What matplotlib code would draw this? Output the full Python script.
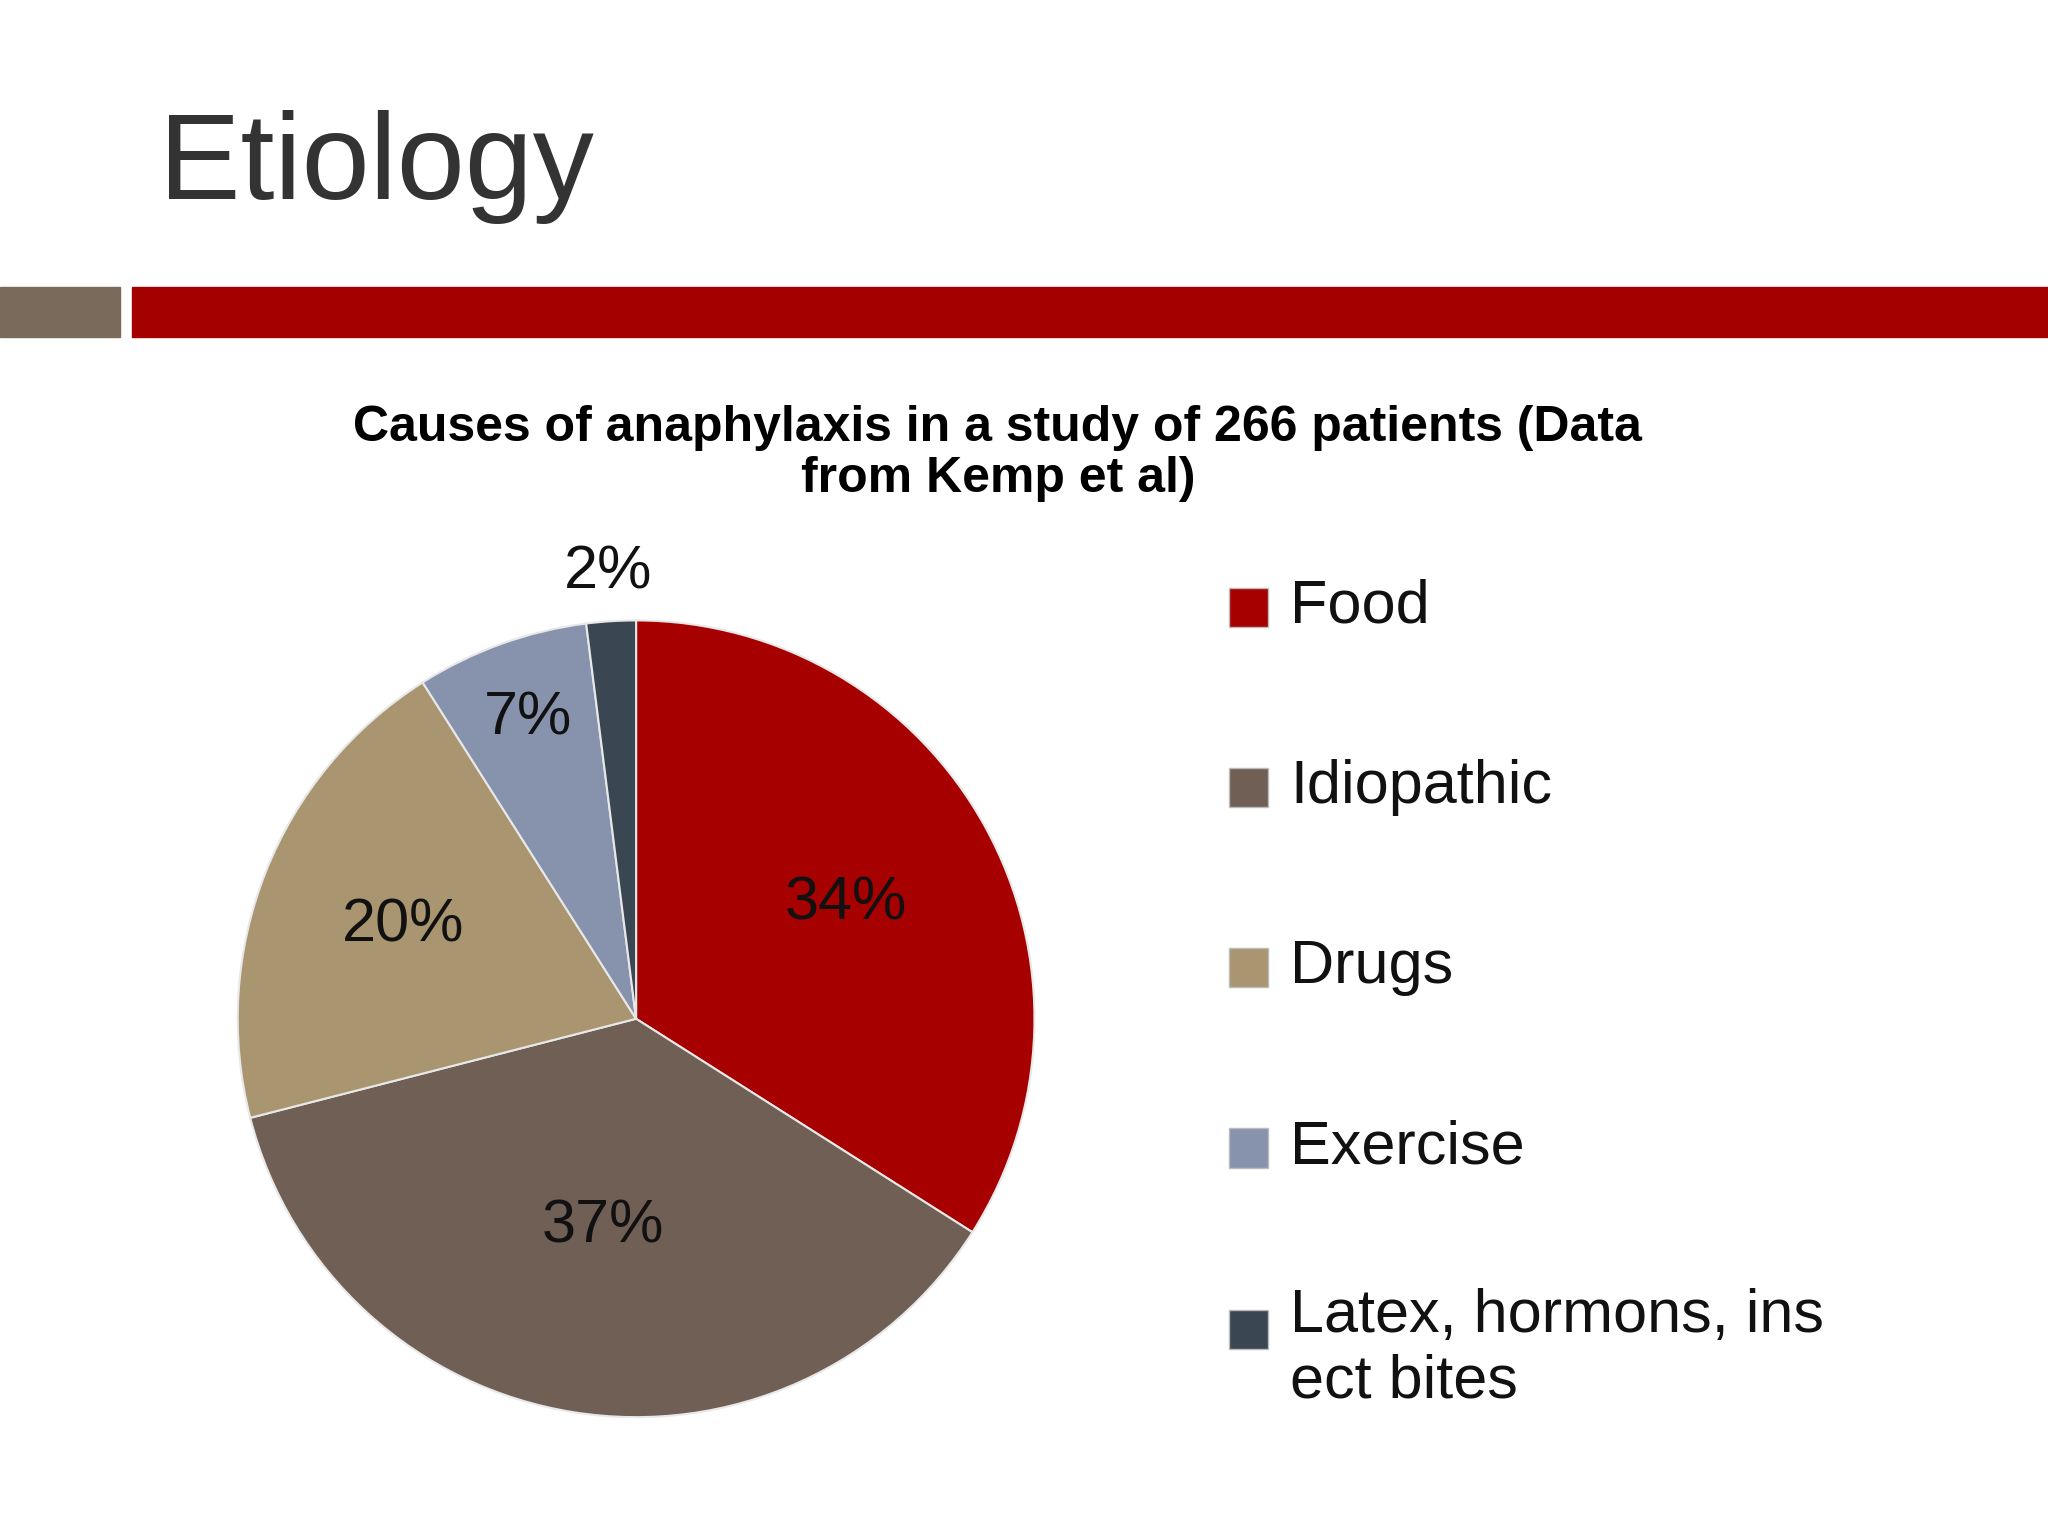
import numpy as np
import matplotlib.pyplot as plt
from matplotlib.patches import Rectangle

plt.rcParams['font.family'] = ['Liberation Sans', 'DejaVu Sans']

# Data
categories = ["Food", "Idiopathic", "Drugs", "Exercise", "Latex, hormons, ins\nect bites"]
shares = [34, 37, 20, 7, 2]
colours = ["#a60000", "#6f5f55", "#a99570", "#8793ad", "#3a4652"]
label_radius = [0.6, 0.53, 0.63, 0.8, 1.12]

W, H = 1568, 1176  # reference layout units


def fx(x):
    return x / W


def fy(y):
    return 1 - y / H


fig = plt.figure(figsize=(20.48, 15.36), dpi=100)
fig.patch.set_facecolor("white")

# Slide heading and decorative bars
fig.text(fx(122), fy(128), "Etiology", fontsize=88, color="#333333", va="center")
fig.add_artist(Rectangle((0, fy(258)), fx(92), (258 - 220) / H,
                         transform=fig.transFigure, color="#7a6a5c"))
fig.add_artist(Rectangle((fx(101), fy(258)), 1 - fx(101), (258 - 220) / H,
                         transform=fig.transFigure, color="#a50000"))

fig.text(fx(764), fy(347), "Causes of anaphylaxis in a study of 266 patients (Data\nfrom Kemp et al)",
         fontsize=36, fontweight="bold", ha="center", va="center", linespacing=1.15)

# Pie
cx, cy, r = 487, 780, 305
ax = fig.add_axes([fx(cx - r), fy(cy + r), 2 * r / W, 2 * r / H])
wedges, _ = ax.pie(shares, colors=colours, startangle=90, counterclock=False,
                   wedgeprops=dict(edgecolor="#e8e8e8", linewidth=1.5))
ax.set_xlim(-1, 1)
ax.set_ylim(-1, 1)
ax.set_aspect("equal")
for w, s, rr in zip(wedges, shares, label_radius):
    ang = np.deg2rad((w.theta1 + w.theta2) / 2)
    ax.text(rr * np.cos(ang), rr * np.sin(ang), f"{s}%", fontsize=44,
            ha="center", va="center", color="#111111", clip_on=False)

# Legend
ys = [465, 603, 741, 879, 1018]
for cat, col, y in zip(categories, colours, ys):
    fig.add_artist(Rectangle((fx(941), fy(y + 15)), fx(30), 30 / H,
                             transform=fig.transFigure, facecolor=col,
                             edgecolor="#bbbbbb", linewidth=1))
    multi = "\n" in cat
    fig.text(fx(988), fy(y - 32) if multi else fy(y), cat, fontsize=44,
             va="top" if multi else "center", color="#111111", linespacing=1.2)

fig.savefig("out.png", dpi=100)
